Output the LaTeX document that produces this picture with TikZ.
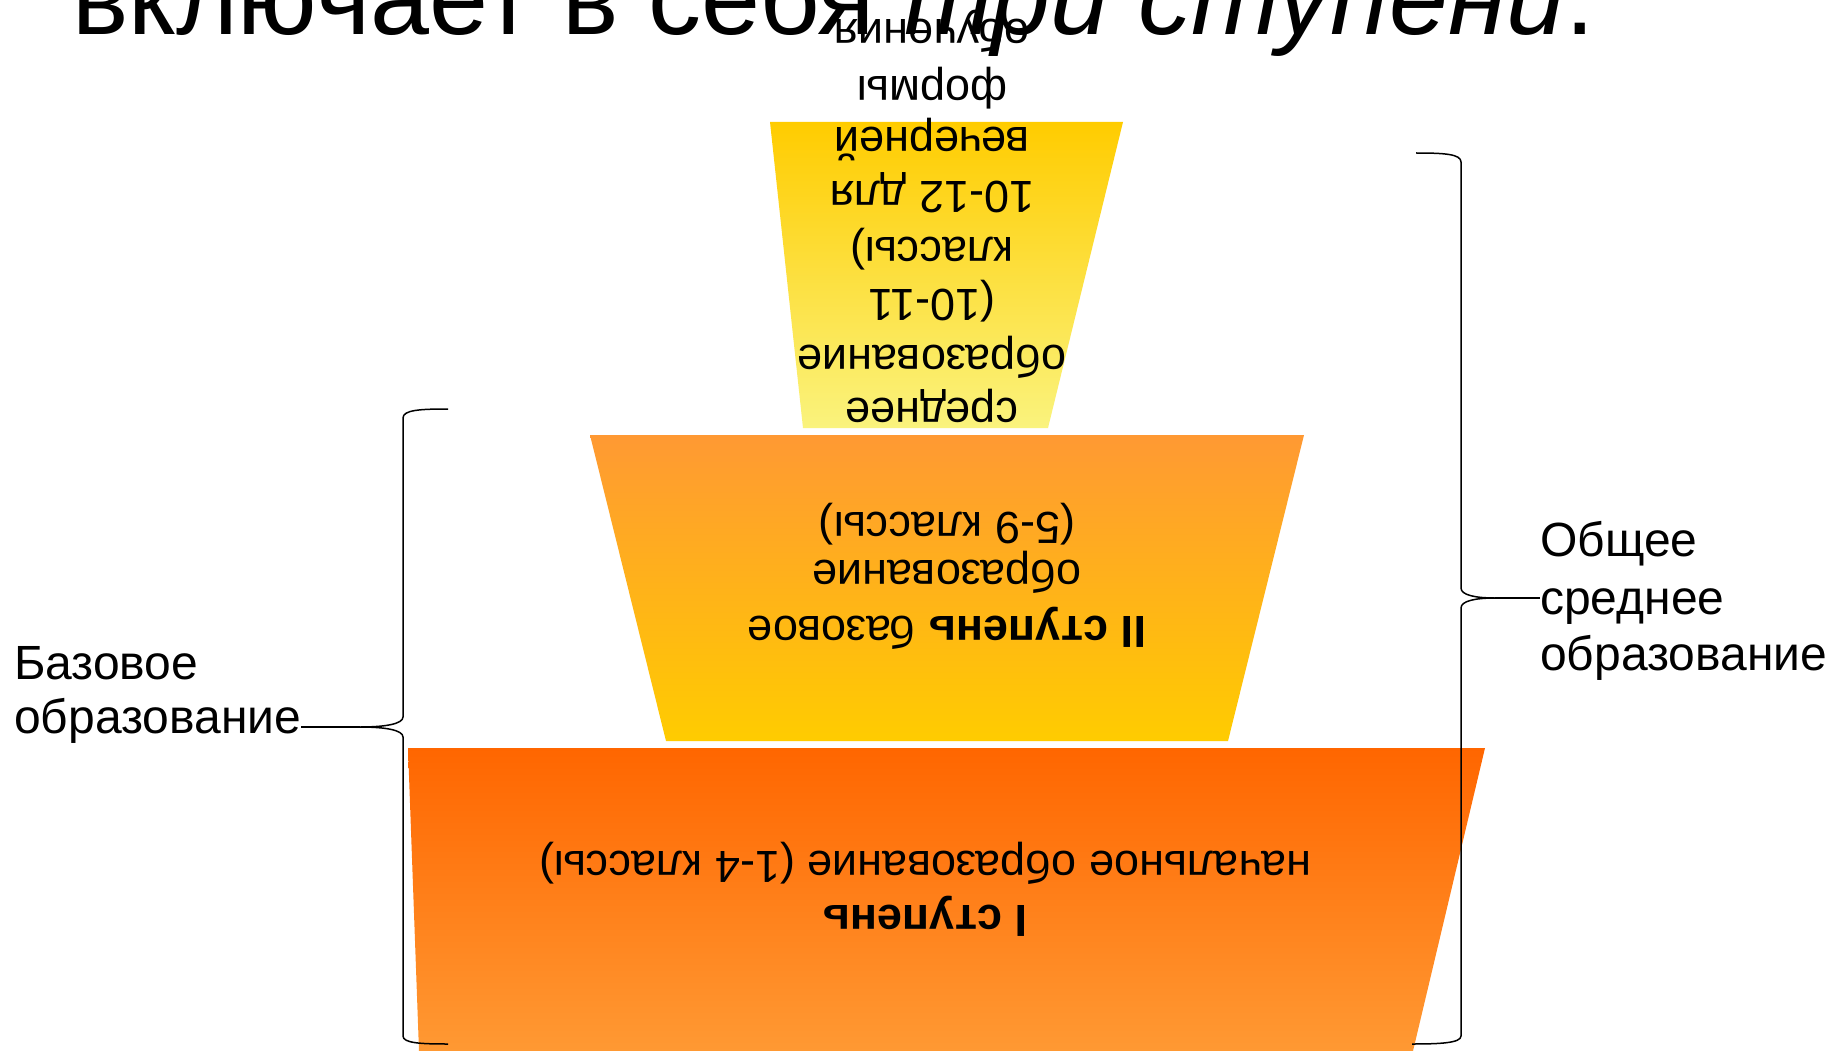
\documentclass[tikz,border=0pt]{standalone}
\usepackage{fontspec}
\setmainfont{Liberation Sans}
\definecolor{orA}{RGB}{255,102,0}
\definecolor{orB}{RGB}{255,153,51}
\definecolor{gold}{RGB}{255,204,0}
\definecolor{paleY}{RGB}{250,243,125}
\begin{document}
\begin{tikzpicture}[x=1pt,y=-1pt,
  shapetext/.style={rotate=180, anchor=base, inner sep=0pt, font=\fontsize{45}{54}\selectfont},
  labeltext/.style={anchor=base west, inner sep=0pt, font=\fontsize{48}{57}\selectfont},
  brace/.style={draw=black, line width=1.5pt},
]
\useasboundingbox (0,0) rectangle (1829,1051);
\clip (0,0) rectangle (1829,1051);
\fill[white] (0,0) rectangle (1829,1051);

% title (cut off at the top)
\node[anchor=base west, inner sep=0pt, font=\fontsize{106}{126}\selectfont] (title) at (72,35) {включает в себя \textit{три ступени}.};

% trapezoids
\shade[top color=orA, bottom color=orB] (408,748) -- (1485,748) -- (1413,1051) -- (419,1051) -- cycle;
\shade[top color=orB, bottom color=gold] (590,435) -- (1304,435) -- (1228,741) -- (666,741) -- cycle;
\shade[top color=gold, bottom color=paleY] (770,122) -- (1123,122) -- (1048,428) -- (803,428) -- cycle;

% upside-down texts
\node[shapetext] (y1) at (932,398) {среднее};
\node[shapetext] (y2) at (932,345) {образование};
\node[shapetext] (y3) at (932,290) {(10-11};
\node[shapetext] (y4) at (932,238) {классы)};
\node[shapetext] (y5) at (932,182) {10-12 для};
\node[shapetext] (y6) at (932,128) {вечерней};
\node[shapetext] (y7) at (932,77) {формы};
\node[shapetext] (y8) at (932,20) {обучения};

\node[shapetext] (m1) at (947,616) {\textbf{II ступень} базовое};
\node[shapetext] (m2) at (947,560) {образование};
\node[shapetext] (m3) at (947,512) {(5-9 классы)};

\node[shapetext] (b1) at (925,905) {\textbf{I ступень}};
\node[shapetext] (b2) at (925,851) {начальное образование (1-4 классы)};

% labels
\node[labeltext] (la1) at (14,679) {Базовое};
\node[labeltext] (la2) at (14,733) {образование};
\node[labeltext] (ra1) at (1540,556) {Общее};
\node[labeltext] (ra2) at (1540,614) {среднее};
\node[labeltext] (ra3) at (1540,670) {образование};

% braces
\coordinate (tipL) at (360,727);
\coordinate (tipR) at (1495,598);
\draw[brace] (448,409) .. controls (420,409) and (403,410) .. (403,418) -- (403,717)
  .. controls (403,724) and (385,727) .. (tipL)
  .. controls (385,727) and (403,730) .. (403,737) -- (403,1036)
  .. controls (403,1043) and (420,1044) .. (448,1044);
\draw[brace] (1416,153) .. controls (1444,153) and (1461,154) .. (1461,162) -- (1461,588)
  .. controls (1461,595) and (1475,598) .. (tipR)
  .. controls (1475,598) and (1461,601) .. (1461,608) -- (1461,1036)
  .. controls (1461,1043) and (1440,1044) .. (1412,1044);
\draw[brace, line width=1.2pt] (la2.east |- tipL) -- (tipL);
\draw[brace, line width=1.2pt] (tipR) -- (tipR -| ra2.west);
\end{tikzpicture}
\end{document}
